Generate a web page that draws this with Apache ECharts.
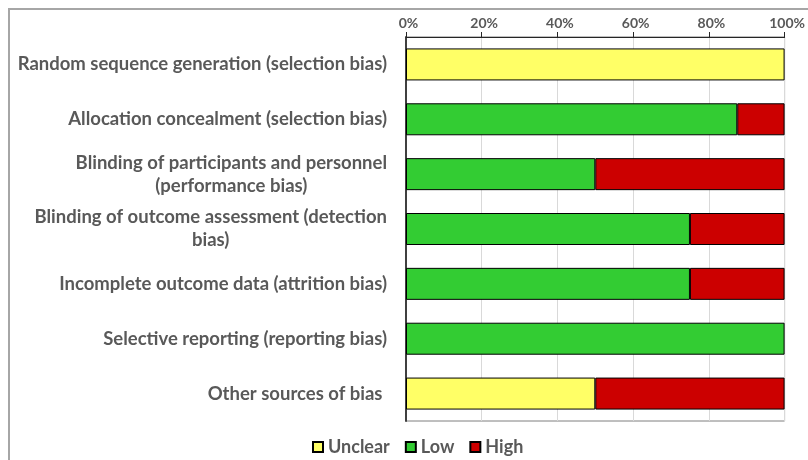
<!DOCTYPE html>
<html>
<head>
<meta charset="utf-8">
<script src="https://cdn.jsdelivr.net/npm/echarts@6/dist/echarts.min.js"></script>
<style>
  html, body { margin: 0; padding: 0; background: #fff; }
  #chart { width: 808px; height: 460px; }
</style>
</head>
<body>
<div id="chart"></div>
<script>
// risk of bias domains, top to bottom
const domains = [
    "Random sequence generation (selection bias)",
    "Allocation concealment (selection bias)",
    "Blinding of participants and personnel\n(performance bias)",
    "Blinding of outcome assessment (detection\nbias)",
    "Incomplete outcome data (attrition bias)",
    "Selective reporting (reporting bias)",
    "Other sources of bias "
];
// percent of studies per judgement
const unclear = [100, 0, 0, 0, 0, 0, 50];
const low = [0, 87.5, 50, 75, 75, 100, 0];
const high = [0, 12.5, 50, 25, 25, 0, 50];
const xTicks = [0, 20, 40, 60, 80, 100];

const textGray = "#595959";
const font = "Lato";

const chart = echarts.init(document.getElementById("chart"));

// empty segments are skipped so no stray border gets drawn
const makeSeries = (name, data, color) => ({
    name: name,
    type: "bar",
    stack: "rob",
    data: data.map(v => v === 0 ? "-" : v),
    barWidth: 32,
    itemStyle: {color: color, borderColor: "#000", borderWidth: 1},
    emphasis: {disabled: true}
});

chart.setOption({
    animation: false,
    backgroundColor: "#fff",
    textStyle: {fontFamily: font},
    graphic: [{
        type: "rect",
        silent: true,
        shape: {x: 9, y: 9, width: 900, height: 600},
        style: {fill: "none", stroke: "#a6a6a6", lineWidth: 2}
    }],
    grid: {
        left: 406, right: 23, top: 37, bottom: 39,
        show: true, borderColor: "#7f7f7f", borderWidth: 1
    },
    legend: {
        left: 307, top: 433,
        icon: "rect",
        itemWidth: 10, itemHeight: 10,
        itemGap: 15,
        textStyle: {color: textGray, fontSize: 18, fontWeight: "bold", fontFamily: font},
        data: ["Unclear", "Low", "High"]
    },
    xAxis: {
        type: "value",
        position: "top",
        min: xTicks[0], max: xTicks[xTicks.length - 1], interval: 20,
        axisLine: {show: true, lineStyle: {color: "#262626", width: 1}},
        axisTick: {show: true, length: 5, lineStyle: {color: "#262626"}},
        splitLine: {show: true, lineStyle: {color: "#d9d9d9"}},
        axisLabel: {
            formatter: v => v + "%",
            color: textGray, fontSize: 14, fontWeight: "bold", fontFamily: font,
            margin: 7,
            padding: [0, 0, 0, 5]
        }
    },
    yAxis: {
        type: "category",
        inverse: true,
        data: domains,
        axisLine: {show: true, lineStyle: {color: "#404040", width: 2}},
        axisTick: {show: false},
        axisLabel: {
            margin: 19,
            align: "right",
            formatter: v => v.split("\n").map(s => "{c|" + s + "}").join("\n"),
            rich: {
                c: {
                    align: "center",
                    color: textGray, fontSize: 18.5, fontWeight: "bold", fontFamily: font,
                    lineHeight: 23
                }
            }
        }
    },
    series: [
        makeSeries("Unclear", unclear, "#ffff66"),
        makeSeries("Low", low, "#33cc33"),
        makeSeries("High", high, "#cc0000")
    ]
});
</script>
</body>
</html>
